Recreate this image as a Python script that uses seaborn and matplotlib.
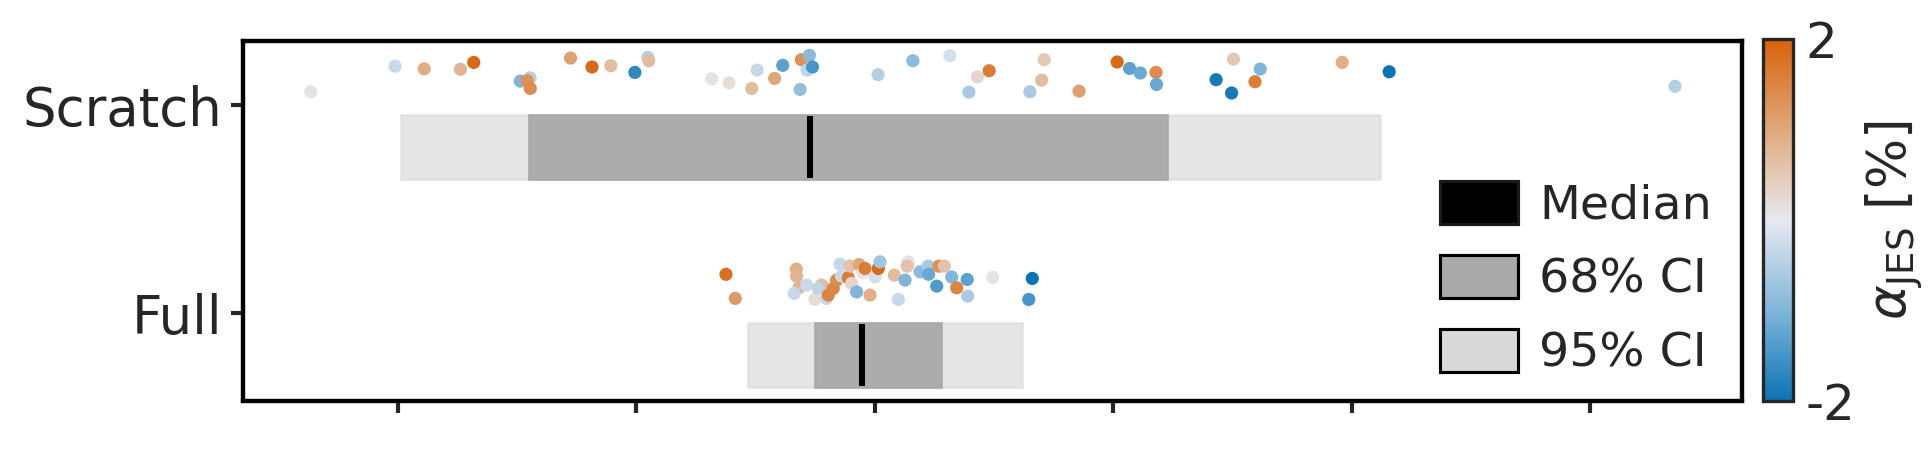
import numpy as np
import pandas as pd
import matplotlib
matplotlib.use("Agg")
import matplotlib.pyplot as plt
import seaborn as sns
from matplotlib.patches import Patch
from matplotlib.colors import Normalize
from matplotlib.cm import ScalarMappable

# categories and summary numbers (x in axis units, tick k sits at value k)
categories = ["Scratch", "Full"]
median = [2.730, 2.946]
ci68_lo = [1.550, 2.750]
ci68_hi = [4.228, 3.278]
ci95_lo = [1.013, 2.469]
ci95_hi = [5.121, 3.618]

# individual points per category: x value, vertical jitter, alpha_JES [%]
scratch_x = [0.634, 0.988, 1.110, 1.262, 1.318, 1.513, 1.554, 1.542, 1.555, 1.724,
             1.814, 1.893, 1.994, 2.048, 2.052, 2.316, 2.389, 2.484, 2.507, 2.580,
             2.614, 2.692, 2.726, 2.716, 2.739, 2.687, 3.014, 3.160, 3.315, 3.431,
             3.480, 3.395, 3.711, 3.700, 3.651, 3.857, 4.017, 4.069, 4.114, 4.180,
             4.182, 4.432, 4.505, 4.617, 4.595, 4.497, 4.961, 5.158, 6.357]
scratch_jit = [-0.066, -0.189, -0.176, -0.174, -0.207, -0.117, -0.133, -0.119, -0.082, -0.228,
               -0.185, -0.191, -0.159, -0.231, -0.215, -0.128, -0.109, -0.082, -0.170, -0.130,
               -0.193, -0.220, -0.241, -0.170, -0.185, -0.077, -0.148, -0.215, -0.239, -0.137,
               -0.167, -0.064, -0.220, -0.122, -0.066, -0.069, -0.209, -0.178, -0.156, -0.159,
               -0.101, -0.124, -0.223, -0.175, -0.114, -0.060, -0.207, -0.162, -0.092]
scratch_alpha = [0.1, -0.3, 0.9, 0.8, 1.9, -1.0, -0.5, 1.3, 1.4, 1.1,
                 1.9, 0.7, -1.7, -0.5, 0.7, 0.1, 0.2, 0.7, -0.3, 1.0,
                 -1.3, 1.3, -0.9, -0.4, -1.5, -0.8, -0.5, -0.9, -0.2, 0.3,
                 1.6, -0.6, 0.5, 0.7, -0.6, 1.1, 1.9, -1.3, -1.2, 1.4,
                 -1.2, -1.9, 0.5, -1.0, 1.6, -1.9, 0.9, -2.0, -0.5]

full_x = [2.376, 2.415, 2.671, 2.672, 2.683, 2.662, 2.714, 2.749, 2.777, 2.763,
          2.798, 2.805, 2.826, 2.840, 2.861, 2.854, 2.889, 2.896, 2.903, 2.924,
          2.935, 2.949, 2.959, 2.980, 3.001, 3.015, 3.022, 3.082, 3.099, 3.127,
          3.141, 3.136, 3.190, 3.224, 3.226, 3.260, 3.269, 3.292, 3.323, 3.344,
          3.388, 3.390, 3.495, 3.661, 3.646]
full_jit = [-0.188, -0.072, -0.213, -0.179, -0.125, -0.096, -0.136, -0.068, -0.136, -0.120,
            -0.072, -0.088, -0.120, -0.160, -0.179, -0.237, -0.171, -0.228, -0.144, -0.103,
            -0.235, -0.195, -0.216, -0.088, -0.175, -0.216, -0.248, -0.184, -0.067, -0.160,
            -0.248, -0.227, -0.200, -0.227, -0.188, -0.131, -0.227, -0.227, -0.175, -0.123,
            -0.163, -0.083, -0.173, -0.168, -0.067]
full_alpha = [1.8, 1.2, 0.9, 0.8, 0.8, -0.3, -0.3, 0.2, 0.7, -0.4,
              -0.3, 1.5, 1.5, 1.4, -0.3, -0.3, 1.6, 0.6, 0.3, -1.0,
              1.0, 0.1, 1.6, 0.9, -0.2, 1.9, -0.7, 0.7, -0.3, -1.0,
              0.1, 0.6, -0.9, -0.6, -1.2, -1.4, 1.3, 0.6, -1.0, 1.5,
              -1.3, -0.6, 0.1, -2.0, -1.5]

xticks = [1, 2, 3, 4, 5, 6]
cbar_ticks = [-2, 2]
cbar_ticklabels = ["-2", "2"]
legend_labels = ["Median", "68% CI", "95% CI"]

sns.set_style("ticks")
plt.rcParams["font.family"] = ["DejaVu Sans"]
plt.rcParams["axes.edgecolor"] = "black"

cmap = sns.blend_palette(["#0b74b5", "#80b6da", "#e7e9ef", "#e0a87c", "#d8620a"], as_cmap=True)

pts = pd.DataFrame({
    "x": scratch_x + full_x,
    "jit": scratch_jit + full_jit,
    "alpha": scratch_alpha + full_alpha,
    "cat": ["Scratch"] * len(scratch_x) + ["Full"] * len(full_x),
})
pts["y"] = pts["cat"].map({c: i for i, c in enumerate(categories)}) + pts["jit"]

fig = plt.figure(figsize=(1931 / 300, 454 / 300), dpi=300)
ax = fig.add_axes([243 / 1931, 53.5 / 454, 1499 / 1931, 359.5 / 454])

ypos = np.arange(len(categories))
box_off, box_h = 0.2, 0.305
ax.barh(ypos + box_off, np.array(ci95_hi) - np.array(ci95_lo), left=ci95_lo, height=box_h,
        color="gainsboro", edgecolor="gainsboro", alpha=0.7, linewidth=0.65)
ax.barh(ypos + box_off, np.array(ci68_hi) - np.array(ci68_lo), left=ci68_lo, height=box_h,
        color="darkgray", edgecolor="darkgray", alpha=0.95, linewidth=0.65)
ax.vlines(median, ypos + box_off - box_h / 2 + 0.005, ypos + box_off + box_h / 2 - 0.005,
          color="black", linewidth=1.45)

sns.scatterplot(data=pts, x="x", y="y", hue="alpha", palette=cmap, hue_norm=(-2, 2),
                s=10, linewidth=0, legend=False, ax=ax, zorder=3)

ax.set_xlim(0.350, 6.638)
ax.set_ylim(1.419, -0.310)
ax.set_xticks(xticks)
ax.tick_params(axis="x", labelbottom=False, length=2.8, width=1.0, color="#262626")
ax.set_yticks(ypos)
ax.set_yticklabels(categories, fontsize=12.7, color="#262626")
ax.tick_params(axis="y", length=2.9, width=1.0, color="#262626", pad=2)
ax.set_xlabel("")
ax.set_ylabel("")
for sp in ax.spines.values():
    sp.set_visible(True)
    sp.set_linewidth(1.05)
    sp.set_color("black")

handles = [
    Patch(facecolor="black", edgecolor="#1a1a1a", linewidth=0.75),
    Patch(facecolor="darkgray", edgecolor="black", linewidth=0.75),
    Patch(facecolor="#d9d9d9", edgecolor="black", linewidth=0.75),
]
ax.legend(handles, legend_labels, loc="lower right", bbox_to_anchor=(0.980, 0.066),
          frameon=False, fontsize=11.4, handlelength=1.65, handleheight=1.0,
          handletextpad=0.45, labelspacing=0.56, borderpad=0, borderaxespad=0,
          labelcolor="#262626")

cax = fig.add_axes([1763 / 1931, 53 / 454, 30 / 1931, 362 / 454])
cb = fig.colorbar(ScalarMappable(norm=Normalize(-2, 2), cmap=cmap), cax=cax)
cb.set_ticks(cbar_ticks)
cb.set_ticklabels(cbar_ticklabels)
cb.ax.tick_params(length=0, labelsize=12, labelcolor="#262626", pad=3)
cb.outline.set_edgecolor("#262626")
cb.outline.set_linewidth(0.8)
cb.set_label(r"$\alpha_{\mathrm{JES}}$ [%]", fontsize=12.7, color="#262626", labelpad=2)

fig.savefig("out.png", dpi=300)
